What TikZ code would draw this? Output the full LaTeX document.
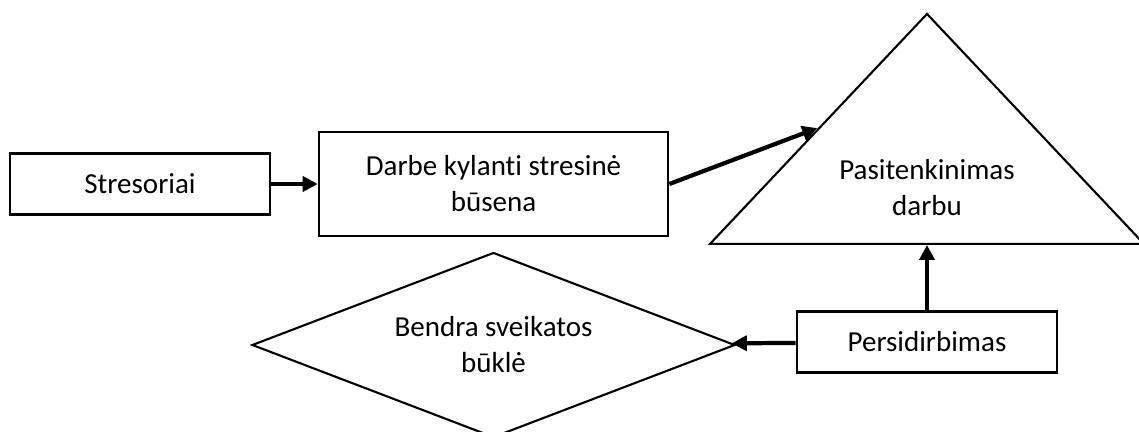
\documentclass[tikz,border=0pt]{standalone}
\usepackage{fontspec}
\setmainfont{Carlito}[Ligatures=NoCommon]
\usetikzlibrary{shapes.geometric, arrows.meta}
\tikzstyle{process} = [rectangle,minimum width=5.2cm,minimum height=1.22cm,align=center,draw=black,line width=1.5pt]
\tikzstyle{state} = [rectangle,minimum width=6.98cm,minimum height=2.08cm,align=center,draw=black,line width=1.5pt]
\tikzstyle{result} = [isosceles triangle,isosceles triangle stretches,shape border rotate=90,minimum width=8.68cm,minimum height=4.6cm,draw=black,line width=1.2pt,inner sep=0pt]
\tikzstyle{decision} = [diamond,aspect=2.65,minimum width=9.66cm,minimum height=3.7cm,align=center,draw=black,line width=1.2pt,inner sep=0pt]
\tikzstyle{txt} = [align=center]
\tikzstyle{arrow} = [line width=2.4pt,-{Triangle[length=3mm,width=3mm]}]

\begin{document}
\begin{tikzpicture}[node distance=2cm,font=\fontsize{16.5}{20.5}\selectfont]

\useasboundingbox (-2.8,3.68) rectangle (19.98,-4.96);

\node (stres) [process] {Stresoriai};
\node (darbe) [state, right of=stres, xshift=5.07cm] {Darbe kylanti stresinė\\būsena};
\node (pers) [process, below of=darbe, xshift=8.67cm, yshift=-1.16cm] {Persidirbimas};
\node (sat) [result, above of=pers, anchor=lower side, yshift=-0.06cm] {};
\node (sattxt) [txt] at ([yshift=1.14cm]sat.lower side) {Pasitenkinimas\\darbu};
\node (health) [decision, below of=darbe, yshift=-1.22cm] {Bendra sveikatos\\būklė};

\draw [arrow] (stres) -- (darbe);
\draw [arrow] (darbe.east) -- (sat.left side);
\draw [arrow] (pers) -- (sat.lower side);
\draw [arrow] (pers) -- (health);

\end{tikzpicture}
\end{document}
